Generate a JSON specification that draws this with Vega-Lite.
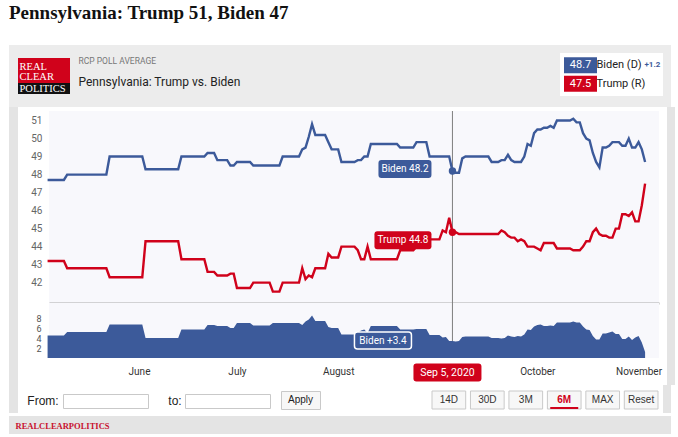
{
"$schema":"https://vega.github.io/schema/vega-lite/v6.json",
"background":"white",
"padding":{"left":9,"right":7,"top":4,"bottom":6},
"title":{"text":"Pennsylvania: Trump 51, Biden 47","anchor":"start","font":"Liberation Serif","fontSize":19,"fontWeight":"bold","color":"#111111","offset":22},
"config":{"view":{"stroke":null},"concat":{"spacing":0},"text":{"font":"Roboto"},"axis":{"labelFont":"Roboto","minExtent":0,"maxExtent":200}},
"datasets":{
"polls":[
{"date":"2020-05-04","biden":47.7,"trump":43.2,"spread":4.5},
{"date":"2020-05-09","biden":47.7,"trump":43.2,"spread":4.5},
{"date":"2020-05-10","biden":48.0,"trump":42.8,"spread":5.2},
{"date":"2020-05-22","biden":48.0,"trump":42.8,"spread":5.2},
{"date":"2020-05-23","biden":49.0,"trump":42.3,"spread":6.7},
{"date":"2020-06-02","biden":49.0,"trump":42.3,"spread":6.7},
{"date":"2020-06-03","biden":48.3,"trump":44.3,"spread":4.0},
{"date":"2020-06-13","biden":48.3,"trump":44.3,"spread":4.0},
{"date":"2020-06-14","biden":49.0,"trump":43.3,"spread":5.7},
{"date":"2020-06-21","biden":49.0,"trump":43.3,"spread":5.7},
{"date":"2020-06-22","biden":49.2,"trump":42.6,"spread":6.6},
{"date":"2020-06-24","biden":49.2,"trump":42.6,"spread":6.6},
{"date":"2020-06-25","biden":48.8,"trump":42.4,"spread":6.4},
{"date":"2020-06-28","biden":48.8,"trump":42.4,"spread":6.4},
{"date":"2020-06-29","biden":48.5,"trump":42.5,"spread":6.0},
{"date":"2020-06-30","biden":48.5,"trump":42.5,"spread":6.0},
{"date":"2020-07-01","biden":48.7,"trump":41.7,"spread":7.0},
{"date":"2020-07-05","biden":48.7,"trump":41.7,"spread":7.0},
{"date":"2020-07-06","biden":48.5,"trump":42.0,"spread":6.5},
{"date":"2020-07-11","biden":48.5,"trump":42.0,"spread":6.5},
{"date":"2020-07-12","biden":48.5,"trump":41.5,"spread":7.0},
{"date":"2020-07-14","biden":48.5,"trump":41.5,"spread":7.0},
{"date":"2020-07-15","biden":49.0,"trump":42.0,"spread":7.0},
{"date":"2020-07-20","biden":49.0,"trump":42.0,"spread":7.0},
{"date":"2020-07-21","biden":49.4,"trump":42.8,"spread":6.6},
{"date":"2020-07-22","biden":49.5,"trump":42.2,"spread":7.3},
{"date":"2020-07-23","biden":50.1,"trump":42.4,"spread":7.7},
{"date":"2020-07-24","biden":50.8,"trump":42.3,"spread":8.5},
{"date":"2020-07-25","biden":50.2,"trump":42.8,"spread":7.4},
{"date":"2020-07-28","biden":50.2,"trump":42.8,"spread":7.4},
{"date":"2020-07-29","biden":49.8,"trump":43.6,"spread":6.2},
{"date":"2020-07-30","biden":49.4,"trump":43.4,"spread":6.0},
{"date":"2020-08-01","biden":49.4,"trump":43.4,"spread":6.0},
{"date":"2020-08-02","biden":48.7,"trump":44.0,"spread":4.7},
{"date":"2020-08-06","biden":48.7,"trump":44.0,"spread":4.7},
{"date":"2020-08-07","biden":48.8,"trump":43.8,"spread":5.0},
{"date":"2020-08-08","biden":48.8,"trump":43.3,"spread":5.5},
{"date":"2020-08-09","biden":49.0,"trump":43.3,"spread":5.7},
{"date":"2020-08-10","biden":49.0,"trump":44.0,"spread":5.0},
{"date":"2020-08-11","biden":49.7,"trump":43.3,"spread":6.4},
{"date":"2020-08-19","biden":49.7,"trump":43.3,"spread":6.4},
{"date":"2020-08-20","biden":49.5,"trump":43.8,"spread":5.7},
{"date":"2020-08-24","biden":49.5,"trump":43.8,"spread":5.7},
{"date":"2020-08-25","biden":49.8,"trump":44.0,"spread":5.8},
{"date":"2020-08-28","biden":49.8,"trump":44.0,"spread":5.8},
{"date":"2020-08-29","biden":49.0,"trump":44.4,"spread":4.6},
{"date":"2020-09-01","biden":49.0,"trump":44.4,"spread":4.6},
{"date":"2020-09-02","biden":49.0,"trump":44.9,"spread":4.1},
{"date":"2020-09-03","biden":49.0,"trump":44.8,"spread":4.2},
{"date":"2020-09-04","biden":49.0,"trump":45.6,"spread":3.4},
{"date":"2020-09-05","biden":48.2,"trump":44.8,"spread":3.4},
{"date":"2020-09-06","biden":48.1,"trump":44.8,"spread":3.3},
{"date":"2020-09-07","biden":48.1,"trump":44.7,"spread":3.4},
{"date":"2020-09-08","biden":48.9,"trump":44.7,"spread":4.2},
{"date":"2020-09-09","biden":49.0,"trump":44.7,"spread":4.3},
{"date":"2020-09-16","biden":49.0,"trump":44.7,"spread":4.3},
{"date":"2020-09-17","biden":48.7,"trump":44.7,"spread":4.0},
{"date":"2020-09-19","biden":48.7,"trump":44.7,"spread":4.0},
{"date":"2020-09-20","biden":48.8,"trump":44.9,"spread":3.9},
{"date":"2020-09-21","biden":48.8,"trump":44.8,"spread":4.0},
{"date":"2020-09-22","biden":49.1,"trump":44.6,"spread":4.5},
{"date":"2020-09-23","biden":48.8,"trump":44.5,"spread":4.3},
{"date":"2020-09-24","biden":48.7,"trump":44.5,"spread":4.2},
{"date":"2020-09-25","biden":48.7,"trump":44.3,"spread":4.4},
{"date":"2020-09-26","biden":48.7,"trump":44.4,"spread":4.3},
{"date":"2020-09-27","biden":49.0,"trump":44.3,"spread":4.7},
{"date":"2020-09-28","biden":49.7,"trump":44.0,"spread":5.7},
{"date":"2020-09-29","biden":49.6,"trump":44.0,"spread":5.6},
{"date":"2020-09-30","biden":50.3,"trump":44.0,"spread":6.3},
{"date":"2020-10-01","biden":50.5,"trump":43.9,"spread":6.6},
{"date":"2020-10-02","biden":50.5,"trump":43.8,"spread":6.7},
{"date":"2020-10-03","biden":50.6,"trump":44.2,"spread":6.4},
{"date":"2020-10-04","biden":50.6,"trump":44.2,"spread":6.4},
{"date":"2020-10-05","biden":50.7,"trump":44.2,"spread":6.5},
{"date":"2020-10-06","biden":50.6,"trump":44.2,"spread":6.4},
{"date":"2020-10-07","biden":51.0,"trump":43.9,"spread":7.1},
{"date":"2020-10-11","biden":51.0,"trump":43.9,"spread":7.1},
{"date":"2020-10-12","biden":51.1,"trump":43.8,"spread":7.3},
{"date":"2020-10-13","biden":50.9,"trump":43.8,"spread":7.1},
{"date":"2020-10-14","biden":50.9,"trump":43.8,"spread":7.1},
{"date":"2020-10-15","biden":50.3,"trump":44.0,"spread":6.3},
{"date":"2020-10-16","biden":50.0,"trump":44.3,"spread":5.7},
{"date":"2020-10-17","biden":49.9,"trump":44.3,"spread":5.6},
{"date":"2020-10-18","biden":49.2,"trump":44.8,"spread":4.4},
{"date":"2020-10-19","biden":48.7,"trump":45.0,"spread":3.7},
{"date":"2020-10-20","biden":48.4,"trump":44.7,"spread":3.7},
{"date":"2020-10-21","biden":49.5,"trump":44.6,"spread":4.9},
{"date":"2020-10-22","biden":49.5,"trump":44.6,"spread":4.9},
{"date":"2020-10-23","biden":49.6,"trump":44.5,"spread":5.1},
{"date":"2020-10-24","biden":49.8,"trump":44.5,"spread":5.3},
{"date":"2020-10-25","biden":49.8,"trump":45.0,"spread":4.8},
{"date":"2020-10-26","biden":49.8,"trump":45.0,"spread":4.8},
{"date":"2020-10-27","biden":49.6,"trump":45.8,"spread":3.8},
{"date":"2020-10-28","biden":49.6,"trump":45.8,"spread":3.8},
{"date":"2020-10-29","biden":50.0,"trump":45.7,"spread":4.3},
{"date":"2020-10-30","biden":49.5,"trump":45.9,"spread":3.6},
{"date":"2020-10-31","biden":49.5,"trump":45.4,"spread":4.1},
{"date":"2020-11-01","biden":49.8,"trump":45.4,"spread":4.4},
{"date":"2020-11-02","biden":49.4,"trump":46.3,"spread":3.1},
{"date":"2020-11-03","biden":48.7,"trump":47.5,"spread":1.2}
],
"tips":[{"date":"2020-09-05","series":"biden","value":48.2,"label":"Biden 48.2"},{"date":"2020-09-05","series":"trump","value":44.8,"label":"Trump 44.8"}],
"spreadtip":[{"date":"2020-09-05","spread":3.4,"label":"Biden +3.4"}],
"legend":[{"cand":"Biden (D)","val":48.7,"change":"+1.2"},{"cand":"Trump (R)","val":47.5,"change":""}]
},
"spacing":0,"bounds":"full",
"vconcat":[
{"spacing":0,"bounds":"full","hconcat":[
 {"width":9,"height":62,"data":{"values":[]},"mark":"point","view":{"fill":"#ececec"}},
 {"spacing":0,"bounds":"flush","vconcat":[
  {"width":52,"height":13,"data":{"values":[]},"mark":"point","view":{"fill":"#ececec"}},
  {"width":52,"height":25,"view":{"fill":"#d0021b"},"data":{"values":[{"w":"REAL"},{"w":"CLEAR"}]},"mark":{"type":"point","opacity":0},
   "encoding":{"y":{"field":"w","type":"nominal","scale":{"type":"point","domain":["REAL","CLEAR"],"padding":0.75,"align":0.56},
   "axis":{"orient":"left","offset":-1,"labelAlign":"left","labelPadding":0,"ticks":false,"tickSize":0,"domain":false,"grid":false,"title":null,"labelBaseline":"middle","labelFont":"Liberation Serif","labelFontSize":10.5,"labelColor":"white"}}}},
  {"width":52,"height":11,"view":{"fill":"#111111"},"data":{"values":[{"w":"POLITICS"}]},"mark":{"type":"point","opacity":0},
   "encoding":{"y":{"field":"w","type":"nominal","scale":{"type":"point"},
   "axis":{"orient":"left","offset":-1,"labelAlign":"left","labelPadding":0,"ticks":false,"tickSize":0,"domain":false,"grid":false,"title":null,"labelBaseline":"middle","labelFont":"Liberation Serif","labelFontSize":10.5,"labelColor":"white"}}}},
  {"width":52,"height":13,"data":{"values":[]},"mark":"point","view":{"fill":"#ececec"}}
 ]},
 {"width":490,"height":62,"view":{"fill":"#ececec"},"data":{"values":[{"t":"RCP POLL AVERAGE"},{"t":"Pennsylvania: Trump vs. Biden"}]},"mark":{"type":"point","opacity":0},
  "encoding":{"y":{"field":"t","type":"nominal","scale":{"type":"point","domain":["RCP POLL AVERAGE","Pennsylvania: Trump vs. Biden"],"padding":1.714,"align":0.375},
  "axis":{"orient":"left","offset":-8,"labelAlign":"left","labelPadding":0,"ticks":false,"tickSize":0,"domain":false,"grid":false,"title":null,"labelBaseline":"middle","labelLimit":400,"labelFont":"Roboto",
   "labelFontSize":{"condition":{"test":"datum.value === 'RCP POLL AVERAGE'","value":8.5},"value":12},
   "labelColor":{"condition":{"test":"datum.value === 'RCP POLL AVERAGE'","value":"#777777"},"value":"#222222"}}}}},
 {"spacing":0,"bounds":"full","vconcat":[
  {"width":103,"height":8,"data":{"values":[]},"mark":"point","view":{"fill":"#ececec"}},
  {"spacing":0,"bounds":"flush","hconcat":[
   {"width":4,"height":43,"data":{"values":[]},"mark":"point"},
   {"width":99,"height":43,"data":{"name":"legend"},"resolve":{"axis":{"y":"independent"}},
    "encoding":{"x":{"datum":"box","type":"nominal","scale":{"paddingInner":0,"paddingOuter":1.268,"align":0},"axis":null}},
    "layer":[
     {"transform":[{"filter":"datum.cand === 'Biden (D)'"}],"mark":{"type":"rect","fill":"#3c5a9a"},"encoding":{
      "y":{"field":"cand","type":"nominal","scale":{"domain":["Biden (D)","Trump (R)"],"paddingInner":0.144,"paddingOuter":0.222},
       "axis":{"orient":"left","offset":-32,"labelPadding":0,"ticks":false,"tickSize":0,"domain":false,"grid":false,"title":null,"labelAlign":"left","labelBaseline":"middle","labelFontSize":11,"labelColor":"#222222","labelFont":"Roboto"}}}},
     {"transform":[{"filter":"datum.cand === 'Trump (R)'"}],"mark":{"type":"rect","fill":"#d0021b"},"encoding":{
      "y":{"field":"cand","type":"nominal","scale":{"domain":["Biden (D)","Trump (R)"],"paddingInner":0.144,"paddingOuter":0.222},"axis":null}}},
     {"mark":{"type":"text","color":"white","fontSize":11,"font":"Roboto"},"encoding":{
      "y":{"field":"cand","type":"nominal","scale":{"domain":["Biden (D)","Trump (R)"],"paddingInner":0.144,"paddingOuter":0.222},
       "axis":{"orient":"left","offset":-80,"labelPadding":0,"labelExpr":"datum.value === 'Biden (D)' ? '+1.2' : ''","ticks":false,"tickSize":0,"domain":false,"grid":false,"title":null,"labelAlign":"left","labelBaseline":"middle","labelFontSize":8,"labelFontWeight":"bold","labelColor":"#3c5a9a","labelFont":"Roboto"}},
      "text":{"field":"val","type":"quantitative","format":".1f"}}}
    ]}
  ]},
  {"width":103,"height":11,"data":{"values":[]},"mark":"point","view":{"fill":"#ececec"}}
 ]},
 {"width":8,"height":62,"data":{"values":[]},"mark":"point","view":{"fill":"#ececec"}}
]},
{"spacing":0,"bounds":"full","hconcat":[
 {"width":9,"height":278,"data":{"values":[]},"mark":"point","view":{"fill":"#e4e4e4"}},
 {"spacing":0,"bounds":"flush","vconcat":[
  {"width":24,"height":4,"data":{"values":[]},"mark":"point"},
  {"width":24,"height":192,"data":{"name":"polls"},"mark":{"type":"point","opacity":0,"size":1},
   "encoding":{"y":{"field":"biden","type":"quantitative","scale":{"domain":[40.87,51.53],"nice":false,"zero":false},
    "axis":{"orient":"left","offset":-24,"minExtent":0,"values":[42,43,44,45,46,47,48,49,50,51],"labelOverlap":false,"grid":false,"domain":false,"ticks":false,"tickSize":0,"labelPadding":0,"labelFontSize":10,"labelColor":"#666666","title":null}}}},
  {"width":24,"height":55,"data":{"name":"polls"},"mark":{"type":"point","opacity":0,"size":1},
   "encoding":{"y":{"field":"spread","type":"quantitative","scale":{"domain":[0,11],"nice":false,"zero":true},
    "axis":{"orient":"left","offset":-23,"minExtent":0,"values":[2,4,6,8],"labelOverlap":false,"grid":false,"domain":false,"ticks":false,"tickSize":0,"labelPadding":0,"labelFontSize":9,"labelColor":"#555555","title":null}}}},
  {"width":24,"height":27,"data":{"values":[]},"mark":"point"}
 ]},
 {"spacing":0,"bounds":"flush","vconcat":[
  {"width":610,"height":4,"data":{"values":[]},"mark":"point"},
  {"width":610,"height":192,"view":{"fill":"#f8f8fc"},
   "encoding":{"x":{"field":"date","type":"temporal",
     "scale":{"type":"utc","domain":[{"year":2020,"month":5,"date":4,"hours":10,"minutes":26,"utc":true},{"year":2020,"month":11,"date":7,"hours":6,"minutes":14,"utc":true}]},
     "axis":{"orient":"bottom","labels":false,"ticks":false,"tickSize":0,"labelPadding":0,"grid":false,"domain":true,"domainColor":"#acacac","domainWidth":2,"title":null}}},
   "layer":[
    {"data":{"name":"tips"},"transform":[{"filter":"datum.series === 'biden'"}],"mark":{"type":"rule","color":"#7f7f7f","strokeWidth":1},"encoding":{}},
    {"data":{"name":"polls"},"mark":{"type":"line","strokeWidth":2.4,"color":"#3c5a9a"},
     "encoding":{"y":{"field":"biden","type":"quantitative","scale":{"domain":[40.87,51.53],"nice":false,"zero":false},
       "axis":{"values":[42,43,44,45,46,47,48,49,50,51],"grid":true,"gridColor":"#e3e3e3","gridWidth":1,"labels":false,"domain":false,"ticks":false,"tickSize":0,"labelPadding":0,"minExtent":0,"title":null}}}},
    {"data":{"name":"polls"},"mark":{"type":"line","strokeWidth":2.4,"color":"#d0021b"},
     "encoding":{"y":{"field":"trump","type":"quantitative","axis":null}}},
    {"data":{"name":"tips"},"transform":[{"filter":"datum.series === 'biden'"}],
     "mark":{"type":"point","shape":"M-71,-11H-24Q-21,-11,-21,-8V4Q-21,7,-24,7H-71Q-74,7,-74,4V-8Q-74,-11,-71,-11Z","size":4,"filled":true,"opacity":1,"color":"#3c5a9a"},
     "encoding":{"y":{"field":"value","type":"quantitative","axis":null}}},
    {"data":{"name":"tips"},"transform":[{"filter":"datum.series === 'trump'"}],
     "mark":{"type":"point","shape":"M-75,-1H-24Q-21,-1,-21,2V14Q-21,17,-24,17H-75Q-78,17,-78,14V2Q-78,-1,-75,-1Z","size":4,"filled":true,"opacity":1,"color":"#d0021b"},
     "encoding":{"y":{"field":"value","type":"quantitative","axis":null}}},
    {"data":{"name":"tips"},"transform":[{"filter":"datum.series === 'biden'"}],
     "mark":{"type":"text","dx":-47.5,"dy":-2,"color":"white","fontSize":10,"align":"center","baseline":"middle"},
     "encoding":{"y":{"field":"value","type":"quantitative","axis":null},"text":{"field":"label"}}},
    {"data":{"name":"tips"},"transform":[{"filter":"datum.series === 'trump'"}],
     "mark":{"type":"text","dx":-49.5,"dy":8,"color":"white","fontSize":10,"align":"center","baseline":"middle"},
     "encoding":{"y":{"field":"value","type":"quantitative","axis":null},"text":{"field":"label"}}},
    {"data":{"name":"tips"},"transform":[{"filter":"datum.series === 'biden'"}],"mark":{"type":"point","filled":true,"opacity":1,"size":55,"color":"#3c5a9a"},
     "encoding":{"y":{"field":"value","type":"quantitative","axis":null}}},
    {"data":{"name":"tips"},"transform":[{"filter":"datum.series === 'trump'"}],"mark":{"type":"point","filled":true,"opacity":1,"size":55,"color":"#d0021b"},
     "encoding":{"y":{"field":"value","type":"quantitative","axis":null}}}
   ]},
  {"width":610,"height":55,"view":{"fill":"#f8f8fc"},
   "encoding":{"x":{"field":"date","type":"temporal",
     "scale":{"type":"utc","domain":[{"year":2020,"month":5,"date":4,"hours":10,"minutes":26,"utc":true},{"year":2020,"month":11,"date":7,"hours":6,"minutes":14,"utc":true}]},
     "axis":{"orient":"bottom","format":"%B","values":[{"year":2020,"month":6,"date":1,"utc":true},{"year":2020,"month":7,"date":1,"utc":true},{"year":2020,"month":8,"date":1,"utc":true},{"year":2020,"month":10,"date":1,"utc":true},{"year":2020,"month":11,"date":1,"utc":true}],
      "labelPadding":8,"ticks":false,"tickSize":0,"domain":false,"grid":false,"labelFontSize":10,"labelColor":"#333333","labelOverlap":false,"labelFlush":false,"title":null}}},
   "layer":[
    {"data":{"name":"tips"},"transform":[{"filter":"datum.series === 'biden'"}],"mark":{"type":"rule","color":"#7f7f7f","strokeWidth":1},"encoding":{}},
    {"data":{"name":"polls"},"mark":{"type":"area","color":"#3c5a9a","opacity":1,"interpolate":"linear"},
     "encoding":{"y":{"field":"spread","type":"quantitative","scale":{"domain":[0,11],"nice":false,"zero":true},
      "axis":{"values":[2,4,6,8],"grid":true,"gridColor":"#e3e3e3","labels":false,"domain":false,"ticks":false,"tickSize":0,"labelPadding":0,"minExtent":0,"title":null}}}},
    {"data":{"name":"spreadtip"},
     "mark":{"type":"point","shape":"M-95,-9H-44Q-41,-9,-41,-6V5Q-41,8,-44,8H-95Q-98,8,-98,5V-6Q-98,-9,-95,-9Z","size":4,"filled":true,"opacity":1,"color":"#3c5a9a","stroke":"white","strokeWidth":1.5},
     "encoding":{"y":{"field":"spread","type":"quantitative","axis":null}}},
    {"data":{"name":"spreadtip"},
     "mark":{"type":"text","dx":-69.5,"dy":-0.5,"color":"white","fontSize":10,"align":"center","baseline":"middle"},
     "encoding":{"y":{"field":"spread","type":"quantitative","axis":null},"text":{"field":"label"}}},
    {"data":{"name":"spreadtip"},
     "mark":{"type":"point","shape":"M-36,33H26Q29,33,29,36V48Q29,51,26,51H-36Q-39,51,-39,48V36Q-39,33,-36,33Z","size":4,"filled":true,"opacity":1,"color":"#d0021b"},
     "encoding":{}},
    {"data":{"name":"spreadtip"},
     "mark":{"type":"text","dx":-5,"dy":42,"color":"white","fontSize":10.5,"align":"center","baseline":"middle"},
     "encoding":{"text":{"field":"date","type":"temporal","timeUnit":"utcyearmonthdate","format":"%b %-d, %Y"}}}
   ]},
  {"width":610,"height":27,"data":{"values":[]},"mark":"point"}
 ]},
 {"width":5,"height":278,"data":{"values":[]},"mark":"point"},
 {"width":8,"height":278,"data":{"values":[]},"mark":"point","view":{"fill":"#e4e4e4"}}
]},
{"spacing":0,"bounds":"full","hconcat":[
 {"width":9,"height":28,"data":{"values":[]},"mark":"point","view":{"fill":"#e4e4e4"}},
 {"spacing":0,"bounds":"full","vconcat":[
  {"width":645,"height":5,"data":{"values":[]},"mark":"point"},
  {"spacing":0,"bounds":"full","hconcat":[
   {"width":9,"height":19,"data":{"values":[]},"mark":"point"},
   {"width":32,"height":19,"data":{"values":[{"t":"From:"}]},"mark":{"type":"text","fontSize":12,"font":"Liberation Sans","color":"#222222"},"encoding":{"text":{"field":"t"}}},
   {"width":3,"height":19,"data":{"values":[]},"mark":"point"},
   {"spacing":0,"bounds":"flush","vconcat":[
    {"width":85,"height":3,"data":{"values":[]},"mark":"point"},
    {"width":85,"height":14,"data":{"values":[]},"mark":"point","view":{"fill":"white","stroke":"#c9c9c9"}},
    {"width":85,"height":2,"data":{"values":[]},"mark":"point"}
   ]},
   {"width":19,"height":19,"data":{"values":[]},"mark":"point"},
   {"width":14,"height":19,"data":{"values":[{"t":"to:"}]},"mark":{"type":"text","fontSize":12,"font":"Liberation Sans","color":"#222222"},"encoding":{"text":{"field":"t"}}},
   {"width":2,"height":19,"data":{"values":[]},"mark":"point"},
   {"spacing":0,"bounds":"flush","vconcat":[
    {"width":85,"height":3,"data":{"values":[]},"mark":"point"},
    {"width":85,"height":14,"data":{"values":[]},"mark":"point","view":{"fill":"white","stroke":"#c9c9c9"}},
    {"width":85,"height":2,"data":{"values":[]},"mark":"point"}
   ]},
   {"width":9,"height":19,"data":{"values":[]},"mark":"point"},
   {"width":39,"height":18,"view":{"fill":"#f7f7f7","stroke":"#c9c9c9"},"data":{"values":[{"t":"Apply"}]},"mark":{"type":"text","fontSize":10,"font":"Liberation Sans","color":"#222222"},"encoding":{"text":{"field":"t"}}},
   {"width":110,"height":19,"data":{"values":[]},"mark":"point"},
   {"width":226,"height":18,"data":{"values":[{"b":"14D"},{"b":"30D"},{"b":"3M"},{"b":"6M"},{"b":"MAX"},{"b":"Reset"}]},
    "encoding":{"x":{"field":"b","type":"nominal","scale":{"domain":["14D","30D","3M","6M","MAX","Reset"],"paddingInner":0.124,"paddingOuter":0},"axis":null}},
    "layer":[
     {"mark":{"type":"rect","fill":"#f7f7f7","stroke":"#c9c9c9","strokeWidth":1}},
     {"transform":[{"filter":"datum.b !== '6M'"}],"mark":{"type":"text","fontSize":10,"font":"Liberation Sans","color":"#333333"},"encoding":{"text":{"field":"b"}}},
     {"transform":[{"filter":"datum.b === '6M'"}],"mark":{"type":"text","fontSize":10,"font":"Liberation Sans","fontWeight":"bold","color":"#d0021b"},"encoding":{"text":{"field":"b"}}},
     {"transform":[{"filter":"datum.b === '6M'"}],"mark":{"type":"point","shape":"M-14,8H14","size":4,"filled":false,"opacity":1,"color":"#d0021b","strokeWidth":2}}
    ]},
   {"width":3,"height":19,"data":{"values":[]},"mark":"point"}
  ]},
  {"width":645,"height":4,"data":{"values":[]},"mark":"point"}
 ]},
 {"width":8,"height":28,"data":{"values":[]},"mark":"point","view":{"fill":"#e4e4e4"}}
]},
{"width":662,"height":18,"view":{"fill":"#e4e4e4"},"data":{"values":[{"brand":"REALCLEARPOLITICS"}]},"mark":{"type":"point","opacity":0},
 "encoding":{"y":{"field":"brand","type":"nominal","scale":{"type":"point"},
 "axis":{"orient":"left","offset":-6,"labelAlign":"left","labelPadding":0,"ticks":false,"tickSize":0,"domain":false,"grid":false,"title":null,"labelBaseline":"middle","labelFont":"Liberation Serif","labelFontWeight":"bold","labelFontSize":8.5,"labelColor":"#c8102e"}}}}
]
}
